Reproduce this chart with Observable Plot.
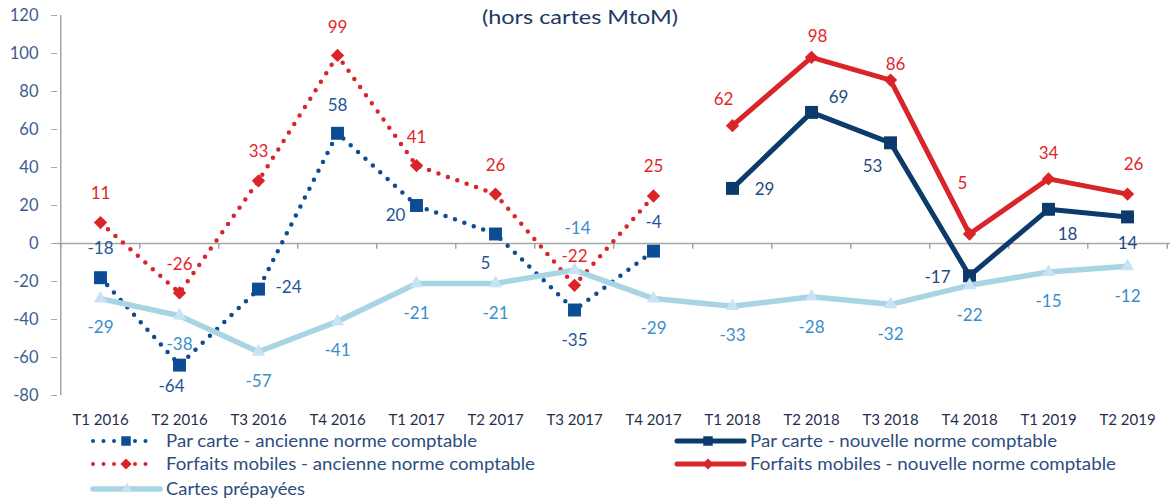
<!DOCTYPE html>
<html><head><meta charset="utf-8">
<script src="https://cdn.jsdelivr.net/npm/d3@7"></script>
<script src="https://cdn.jsdelivr.net/npm/@observablehq/plot@0.6"></script>
<style>
body{margin:0;background:#fff;font-family:Lato,sans-serif}
#wrap{position:relative;width:1174px;height:501px;overflow:hidden;background:#fff}
#overlay{position:absolute;left:0;top:0;pointer-events:none}
#chart{position:absolute;left:0;top:0}
</style></head><body><div id="wrap"><div id="chart"></div></div>
<script>
const quarters = ["T1 2016","T2 2016","T3 2016","T4 2016","T1 2017","T2 2017","T3 2017","T4 2017","T1 2018","T2 2018","T3 2018","T4 2018","T1 2019","T2 2019"];
const quartersAncienne = quarters.slice(0, 8);
const quartersNouvelle = quarters.slice(8);
const parCarteAncienne = [-18, -64, -24, 58, 20, 5, -35, -4];
const forfaitsAncienne = [11, -26, 33, 99, 41, 26, -22, 25];
const parCarteNouvelle = [29, 69, 53, -17, 18, 14];
const forfaitsNouvelle = [62, 98, 86, 5, 34, 26];
const cartesPrepayees = [-29, -38, -57, -41, -21, -21, -14, -29, -33, -28, -32, -22, -15, -12];
const yTicks = [-80, -60, -40, -20, 0, 20, 40, 60, 80, 100, 120];
const title = "(hors cartes MtoM)";
const seriesNames = ["Par carte - ancienne norme comptable", "Par carte - nouvelle norme comptable",
  "Forfaits mobiles - ancienne norme comptable", "Forfaits mobiles - nouvelle norme comptable", "Cartes prépayées"];

// label offsets in pixels (style only)
const offPCA = [[0,-29],[-8,21],[30,-2],[0,-28],[-21,10],[-10,30],[0,31],[0,-29]];
const offFMA = [[0,-29],[0,-28],[0,-29],[0,-28],[0,-28],[0,-29],[0,-29],[0,-29]];
const offPCN = [[32,1],[27,-15],[-18,24],[-32,2],[19,25],[0,27]];
const offFMN = [[-9,-26],[6,-21],[5,-16],[-7,-50],[0,-25],[6,-30]];
const offCP  = [[0,29],[0,29],[0,30],[0,29],[0,30],[0,30],[3,-42],[0,30],[0,29],[0,31],[0,30],[0,30],[0,30],[0,30]];

const C = {pca:"#0B4C94", pcn:"#0B3A6B", red:"#D9252A", cp:"#A8D4E4", cpm:"#C8E4F4",
  lblPca:"#1F5596", lblPcn:"#1F4A7E", lblRed:"#E3262B", lblCp:"#3A8ECB", grid:"#A6A6A6"};

const rows = (qs, vals) => qs.map((q, i) => ({q, v: vals[i]}));
const dPCA = rows(quartersAncienne, parCarteAncienne);
const dFMA = rows(quartersAncienne, forfaitsAncienne);
const dPCN = rows(quartersNouvelle, parCarteNouvelle);
const dFMN = rows(quartersNouvelle, forfaitsNouvelle);
const dCP = rows(quarters, cartesPrepayees);

const W = 1174, H = 430, ML = 57, MR = 4, MT = 15, MB = 35;
const half = (W - ML - MR) / quarters.length / 2;

const labels = (data, offs, fill) => data.map((d, i) =>
  Plot.text([d], {x: "q", y: "v", text: d => String(d.v), dx: offs[i][0], dy: offs[i][1], fill, fontSize: 17}));

const plot = Plot.plot({
  width: W, height: H, marginTop: MT, marginBottom: MB, marginLeft: ML, marginRight: MR,
  x: {type: "point", domain: quarters, padding: 0.5, axis: null},
  y: {domain: [-80, 120], axis: null},
  style: {fontFamily: "Lato, sans-serif", background: "#fff", overflow: "visible"},
  marks: [
    Plot.axisY({ticks: yTicks, tickSize: 6, tickPadding: 13, tickFormat: d => String(d), fontSize: 16.5,
      fill: "#3E5E8E", stroke: C.grid, label: null}),
    Plot.axisX({tickSize: 0, tickPadding: 19, fontSize: 15, fill: "#1F2F4F", label: null}),
    Plot.ruleX([quarters[0]], {y1: -80, y2: 120, dx: -half, stroke: C.grid, strokeWidth: 1.5}),
    Plot.ruleY([0], {stroke: C.grid, strokeWidth: 1.5}),
    Plot.ruleX(quarters, {y1: 0, y2: -3, dx: -half, stroke: C.grid, strokeWidth: 1.5}),
    Plot.ruleX([quarters[quarters.length - 1]], {y1: 0, y2: -3, dx: half, stroke: C.grid, strokeWidth: 1.5}),
    Plot.line(dPCA, {x: "q", y: "v", stroke: C.pca, strokeWidth: 4.5, strokeDasharray: "0 10", strokeLinecap: "round"}),
    Plot.dot(dPCA, {x: "q", y: "v", symbol: "square", r: 7.3, fill: C.pca}),
    Plot.line(dFMA, {x: "q", y: "v", stroke: C.red, strokeWidth: 4.5, strokeDasharray: "0 10", strokeLinecap: "round"}),
    Plot.dot(dFMA, {x: "q", y: "v", symbol: "diamond2", r: 6, fill: C.red}),
    Plot.line(dPCN, {x: "q", y: "v", stroke: C.pcn, strokeWidth: 5}),
    Plot.dot(dPCN, {x: "q", y: "v", symbol: "square", r: 7.3, fill: C.pcn}),
    Plot.line(dFMN, {x: "q", y: "v", stroke: C.red, strokeWidth: 5}),
    Plot.dot(dFMN, {x: "q", y: "v", symbol: "diamond2", r: 6, fill: C.red}),
    Plot.line(dCP, {x: "q", y: "v", stroke: C.cp, strokeWidth: 5.5}),
    Plot.dot(dCP, {x: "q", y: "v", symbol: "triangle", r: 5, fill: C.cpm}),
    ...labels(dPCA, offPCA, C.lblPca),
    ...labels(dFMA, offFMA, C.lblRed),
    ...labels(dPCN, offPCN, C.lblPcn),
    ...labels(dFMN, offFMN, C.lblRed),
    ...labels(dCP, offCP, C.lblCp)
  ]
});
document.getElementById("chart").appendChild(plot);

// overlay: title + legend
const ov = d3.select("#wrap").append("svg").attr("id", "overlay").attr("width", W).attr("height", 501)
  .style("font-family", "Lato, sans-serif");
ov.append("text").attr("x", 580).attr("y", 17).attr("dy", "0.35em").attr("text-anchor", "middle")
  .attr("font-size", 20).attr("fill", "#203864").attr("textLength", 196).attr("lengthAdjust", "spacingAndGlyphs").text(title);

const legendItems = [
  {name: seriesNames[0], x0: 93, x1: 153, xm: 126, y: 441, color: C.pca, dotted: true, sym: "square", tw: 311},
  {name: seriesNames[1], x0: 677, x1: 744, xm: 708, y: 441, color: C.pcn, dotted: false, sym: "square", tw: 307},
  {name: seriesNames[2], x0: 93, x1: 153, xm: 126, y: 464, color: C.red, dotted: true, sym: "diamond", tw: 369},
  {name: seriesNames[3], x0: 677, x1: 744, xm: 708, y: 464, color: C.red, dotted: false, sym: "diamond", tw: 366},
  {name: seriesNames[4], x0: 93, x1: 160, xm: 127, y: 489, color: C.cp, dotted: false, sym: "triangle", tw: 139, mfill: C.cpm}
];
legendItems.forEach(it => {
  const g = ov.append("g");
  const ln = g.append("line").attr("x1", it.x0).attr("x2", it.x1).attr("y1", it.y).attr("y2", it.y)
    .attr("stroke", it.color).attr("stroke-linecap", "round");
  if (it.dotted) ln.attr("stroke-width", 4).attr("stroke-dasharray", "0 10.5");
  else ln.attr("stroke-width", it.sym === "triangle" ? 5.5 : 5);
  const sym = it.sym === "square" ? d3.symbolSquare : it.sym === "diamond" ? d3.symbolDiamond2 : d3.symbolTriangle;
  const size = it.sym === "square" ? 90 : it.sym === "diamond" ? 80 : 55;
  g.append("path").attr("d", d3.symbol(sym, size)()).attr("transform", `translate(${it.xm},${it.y})`)
    .attr("fill", it.mfill || it.color);
  const tx = it.x0 < 600 ? 166 : 750;
  g.append("text").attr("x", tx).attr("y", it.y).attr("dy", "0.35em").attr("font-size", 18)
    .attr("fill", "#2E4D7E").attr("textLength", it.tw).attr("lengthAdjust", "spacingAndGlyphs").text(it.name);
});
</script></body></html>
